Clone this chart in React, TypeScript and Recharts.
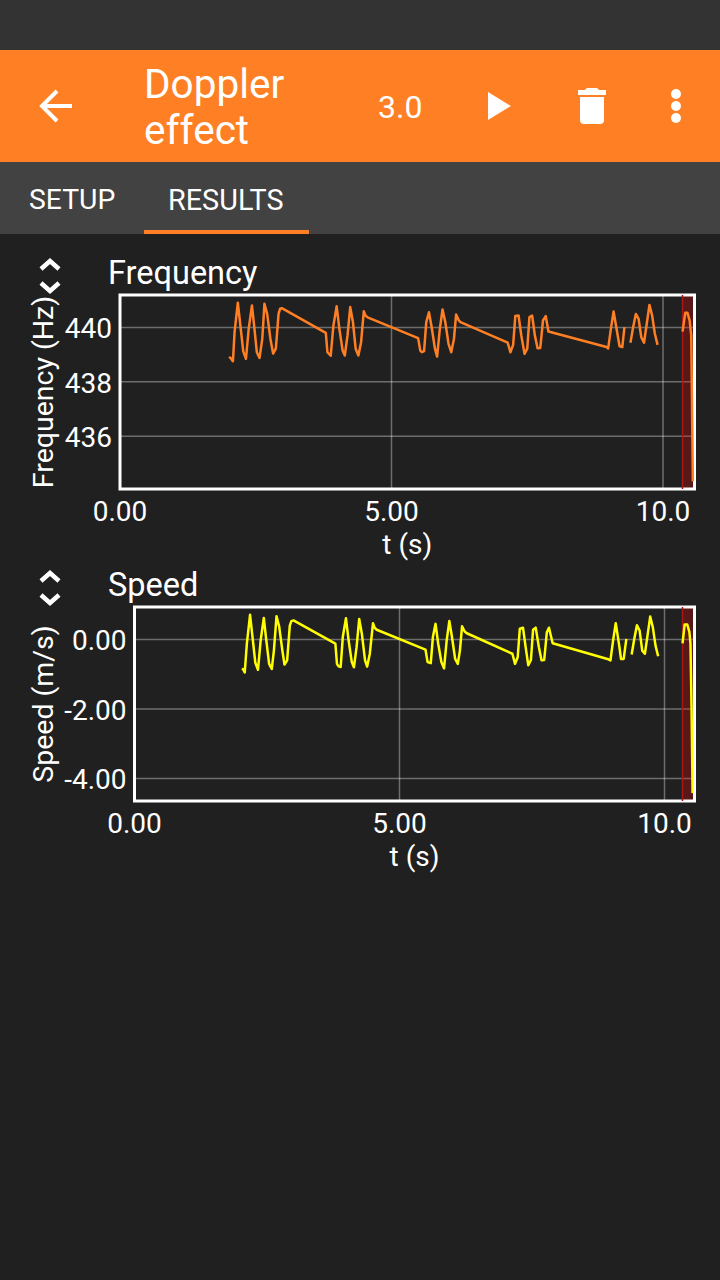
import React from "react";
import { LineChart, Line, XAxis, YAxis, CartesianGrid, ReferenceArea, ReferenceLine } from "recharts";

// gaps in the recording are kept as null so the line breaks there
const freqTimes = [2.01, 2.04, 2.08, 2.11, 2.17, 2.21, 2.27, 2.32, 2.37, 2.43, 2.47, 2.52, 2.57, 2.62, 2.66, 2.71, 2.77, 2.82, 2.87, 2.92, 2.95, 2.98, 3.79, 3.82, 3.88, 3.93, 3.99, 4.04, 4.1, 4.14, 4.19, 4.24, 4.29, 4.34, 4.39, 4.44, 4.49, 4.52, 4.56, 5.49, 5.53, 5.56, 5.6, 5.64, 5.69, 5.74, 5.8, 5.84, 5.89, 5.94, 5.99, 6.05, 6.1, 6.15, 6.19, 6.24, 6.27, 7.14, 7.19, 7.24, 7.28, 7.34, 7.39, 7.45, 7.5, 7.54, 7.59, 7.64, 7.69, 7.74, 7.79, 7.84, 7.89, 8.96, 8.99, 9.04, 9.09, 9.15, 9.2, 9.25, 9.29, 9.35, 9.4, 9.45, 9.5, 9.55, 9.6, 9.65, 9.7, 9.75, 9.8, 9.85, 9.9, 10.1, 10.36, 10.41, 10.45, 10.49, 10.52, 10.53, 10.55];
const freqValues = [438.92, 438.87, 438.76, 439.83, 440.91, 440.2, 439.12, 438.85, 439.95, 440.81, 440.07, 439.09, 438.88, 439.58, 440.87, 440.5, 439.58, 439.04, 439.22, 440.5, 440.69, 440.71, 439.8, 439.09, 438.96, 440.07, 440.78, 439.95, 439.15, 438.97, 439.71, 440.75, 440.2, 439.22, 438.97, 439.46, 440.6, 440.44, 440.37, 439.61, 439.15, 439.09, 439.13, 440.2, 440.56, 440.01, 439.22, 438.93, 439.95, 440.66, 440.2, 439.4, 439.09, 439.58, 440.48, 440.26, 440.2, 439.44, 439.09, 439.36, 440.42, 440.44, 439.71, 439.03, 439.22, 440.38, 440.44, 439.71, 439.24, 439.25, 440.26, 440.42, 439.85, 439.28, 439.23, 439.95, 440.59, 439.89, 439.31, 439.28, 440.01, null, 439.44, 440.01, 440.5, 440.32, 439.64, 439.44, 440.13, 440.83, 440.44, 439.77, 439.36, null, 439.85, 440.54, 440.54, 440.26, 439.71, 437.87, 434.34];

const speedTimes = [2.03, 2.05, 2.08, 2.12, 2.18, 2.22, 2.28, 2.33, 2.38, 2.44, 2.48, 2.54, 2.59, 2.63, 2.68, 2.73, 2.79, 2.83, 2.88, 2.93, 2.96, 3.0, 3.79, 3.82, 3.85, 3.89, 3.93, 3.99, 4.04, 4.1, 4.14, 4.19, 4.24, 4.29, 4.35, 4.39, 4.44, 4.5, 4.53, 4.57, 5.49, 5.53, 5.59, 5.63, 5.68, 5.73, 5.79, 5.84, 5.89, 5.94, 5.99, 6.05, 6.1, 6.14, 6.18, 6.23, 6.27, 7.13, 7.18, 7.23, 7.27, 7.33, 7.38, 7.43, 7.48, 7.52, 7.57, 7.63, 7.68, 7.73, 7.78, 7.82, 7.89, 8.94, 8.98, 9.03, 9.08, 9.14, 9.18, 9.23, 9.28, 9.33, 9.38, 9.43, 9.48, 9.53, 9.58, 9.63, 9.68, 9.73, 9.78, 9.83, 9.88, 10.1, 10.34, 10.38, 10.43, 10.47, 10.49, 10.51, 10.53];
const speedValues = [-0.83, -0.86, -0.95, -0.12, 0.71, 0.16, -0.67, -0.87, -0.03, 0.62, 0.07, -0.7, -0.85, -0.32, 0.67, 0.37, -0.32, -0.72, -0.6, 0.4, 0.53, 0.55, -0.12, -0.7, -0.77, -0.79, 0.07, 0.61, -0.03, -0.65, -0.8, -0.22, 0.59, 0.16, -0.6, -0.78, -0.41, 0.47, 0.34, 0.28, -0.29, -0.65, -0.68, 0.07, 0.45, -0.12, -0.65, -0.83, -0.03, 0.53, 0.07, -0.56, -0.7, -0.32, 0.38, 0.23, 0.18, -0.41, -0.7, -0.51, 0.31, 0.34, -0.22, -0.74, -0.59, 0.28, 0.34, -0.22, -0.6, -0.59, 0.21, 0.34, -0.11, -0.57, -0.6, -0.03, 0.47, -0.12, -0.56, -0.56, 0.02, null, -0.43, 0.02, 0.41, 0.26, -0.32, -0.41, 0.12, 0.66, 0.35, -0.17, -0.48, null, -0.11, 0.43, 0.43, 0.21, -0.12, -1.95, -4.42];

const timeTicks = [0, 5, 10];
const freqTicks = [436, 438, 440];
const speedTicks = [-4, -2, 0];

const freqData = freqTimes.map((t, i) => ({ t, v: freqValues[i] }));
const speedData = speedTimes.map((t, i) => ({ t, v: speedValues[i] }));

const FONT = "Roboto, sans-serif";
const ORANGE = "#FF7F24";
const BG = "#202020";

type PlotProps = {
  data: { t: number; v: number | null }[];
  top: number;
  plotLeft: number;
  xMax: number;
  markerStart: number;
  yDomain: [number, number];
  yTicks: number[];
  yFormat: (v: number) => string;
  yLabel: string;
  color: string;
};

// one graph: plot height is 194px, everything below is axis room
const Plot = ({ data, top, plotLeft, xMax, markerStart, yDomain, yTicks, yFormat, yLabel, color }: PlotProps) => (
  <div style={{ position: "absolute", left: 0, top }}>
    <LineChart width={720} height={274} data={data} margin={{ top: 4, right: 25.5, bottom: 0, left: 0 }}>
      <CartesianGrid stroke="#ffffff" strokeOpacity={0.35} strokeWidth={1.5} />
      <XAxis
        dataKey="t"
        type="number"
        domain={[0, xMax]}
        ticks={timeTicks}
        allowDataOverflow
        interval={0}
        height={76}
        axisLine={false}
        tickLine={false}
        tickMargin={6}
        tickFormatter={(v: number) => (v === 10 ? "10.0" : v.toFixed(2))}
        tick={{ fill: "#fff", fontSize: 28, fontFamily: FONT }}
        label={{ value: "t (s)", position: "insideBottom", offset: 11, fill: "#fff", fontSize: 28, fontFamily: FONT }}
      />
      <YAxis
        type="number"
        domain={yDomain}
        ticks={yTicks}
        allowDataOverflow
        width={plotLeft}
        axisLine={false}
        tickLine={false}
        tickFormatter={yFormat}
        tick={{ fill: "#fff", fontSize: 28, fontFamily: FONT, dy: 1 }}
        label={{ value: yLabel, angle: -90, position: "insideLeft", offset: 43, fill: "#fff", fontSize: 28.5, fontFamily: FONT, style: { textAnchor: "middle" } }}
      />
      <ReferenceArea x1={markerStart} x2={xMax} y1={yDomain[0]} y2={yDomain[1]} fill="#ff0000" fillOpacity={0.25} stroke="none" />
      <ReferenceLine x={markerStart} stroke="#a81818" strokeWidth={1.5} />
      <Line dataKey="v" type="linear" stroke={color} strokeWidth={2.5} strokeLinejoin="round" dot={false} connectNulls={false} isAnimationActive={false} />
      <ReferenceArea x1={0} x2={xMax} y1={yDomain[0]} y2={yDomain[1]} fill="none" stroke="#ffffff" strokeWidth={3} ifOverflow="visible" />
    </LineChart>
  </div>
);

const Chevrons = ({ top }: { top: number }) => (
  <svg width={24} height={40} style={{ position: "absolute", left: 38, top }} fill="none" stroke="#fff" strokeWidth={4.5}>
    <path d="M3 11 L12 3 L21 11" />
    <path d="M3 25 L12 33 L21 25" />
  </svg>
);

const Title = ({ text, top }: { text: string; top: number }) => (
  <div style={{ position: "absolute", left: 108, top, fontSize: 32.5, lineHeight: "36px", color: "#fff" }}>{text}</div>
);

const Header = () => (
  <>
    <div style={{ position: "absolute", left: 0, top: 0, width: 720, height: 50, background: "#333333" }} />
    <div style={{ position: "absolute", left: 0, top: 50, width: 720, height: 112, background: ORANGE }} />
    <div style={{ position: "absolute", left: 0, top: 162, width: 720, height: 72, background: "#424242" }} />
    <div style={{ position: "absolute", left: 144, top: 230, width: 165, height: 4, background: ORANGE }} />
    <div style={{ position: "absolute", left: 144, top: 61, width: 200, fontSize: 40.5, lineHeight: "46px", color: "#fff" }}>
      Doppler
      <br />
      effect
    </div>
    <div style={{ position: "absolute", left: 378, top: 88, fontSize: 32, lineHeight: "38px", color: "#fff" }}>3.0</div>
    <div style={{ position: "absolute", left: 29, top: 182, fontSize: 28.3, lineHeight: "36px", color: "#fff" }}>SETUP</div>
    <div style={{ position: "absolute", left: 168, top: 182, fontSize: 28.8, lineHeight: "36px", color: "#fff" }}>RESULTS</div>
    <svg width={720} height={162} style={{ position: "absolute", left: 0, top: 0 }}>
      <path d="M72 106 H44 M57 91 L42 106 L57 121" fill="none" stroke="#fff" strokeWidth={4} />
      <path d="M488 92 L511 106 L488 120 Z" fill="#fff" />
      <path d="M587 88 H597 L599 90 H606 V95 H578 V90 H585 Z" fill="#fff" />
      <path d="M580 97 H604 V120 Q604 124 600 124 H584 Q580 124 580 120 Z" fill="#fff" />
      <circle cx={676} cy={94} r={5} fill="#fff" />
      <circle cx={676} cy={106} r={5} fill="#fff" />
      <circle cx={676} cy={118} r={5} fill="#fff" />
    </svg>
  </>
);

export default function App() {
  return (
    <div style={{ position: "fixed", left: 0, top: 0, width: 720, height: 1280, background: BG, fontFamily: FONT, overflow: "hidden" }}>
      <Header />
      <Chevrons top={258} />
      <Title text="Frequency" top={255} />
      <Plot
        data={freqData}
        top={290.5}
        plotLeft={120}
        xMax={10.58}
        markerStart={10.36}
        yDomain={[434.06, 441.195]}
        yTicks={freqTicks}
        yFormat={(v) => String(v)}
        yLabel="Frequency (Hz)"
        color={ORANGE}
      />
      <Chevrons top={570} />
      <Title text="Speed" top={567} />
      <Plot
        data={speedData}
        top={602.5}
        plotLeft={134.5}
        xMax={10.566}
        markerStart={10.34}
        yDomain={[-4.647, 0.935]}
        yTicks={speedTicks}
        yFormat={(v) => v.toFixed(2)}
        yLabel="Speed (m/s)"
        color="#FFFF00"
      />
    </div>
  );
}
